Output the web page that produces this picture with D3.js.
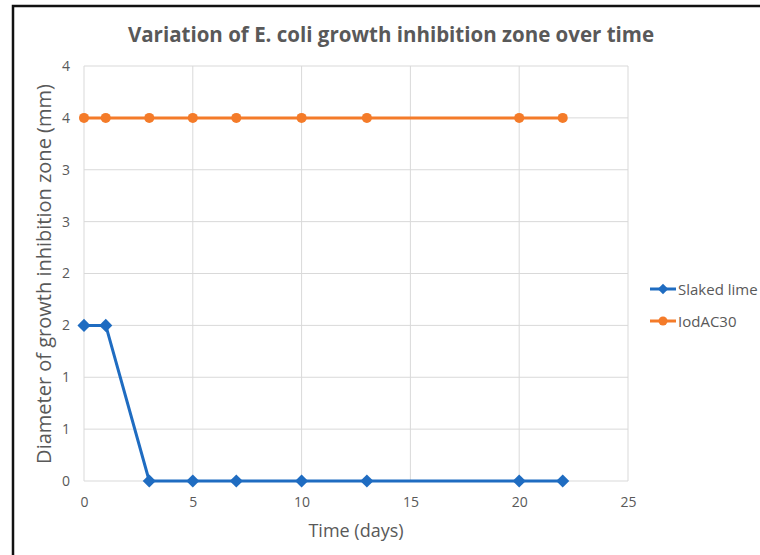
<!DOCTYPE html>
<html lang="en">
<head>
    <meta charset="UTF-8">
    <title>Variation of E. coli growth inhibition zone over time</title>
    <script src="https://d3js.org/d3.v7.min.js"></script>
    <style>
        body {
            margin: 0;
            background-color: #fff;
            font-family: "Open Sans", Arial, sans-serif;
        }
        .grid line {
            stroke: #d9d9d9;
            stroke-width: 1;
        }
    </style>
</head>
<body>
    <svg id="chart" width="760" height="555"></svg>
    <script>
        const days = [0, 1, 3, 5, 7, 10, 13, 20, 22];
        const slakedLime = [1.5, 1.5, 0, 0, 0, 0, 0, 0, 0];
        const iodAC30 = [3.5, 3.5, 3.5, 3.5, 3.5, 3.5, 3.5, 3.5, 3.5];
        const xTicks = [0, 5, 10, 15, 20, 25];
        const yTicks = [0, 0.5, 1, 1.5, 2, 2.5, 3, 3.5, 4];
        const yTickLabels = ["0", "1", "1", "2", "2", "3", "3", "4", "4"];

        const series = [
            { name: "Slaked lime", values: slakedLime, color: "#1f6cc1", marker: "diamond" },
            { name: "IodAC30", values: iodAC30, color: "#f47b29", marker: "circle" }
        ];

        const margin = { top: 66, right: 132, bottom: 74, left: 84 };
        const width = 760 - margin.left - margin.right;
        const height = 555 - margin.top - margin.bottom;

        const svg = d3.select("#chart");

        // outer frame (runs off the right and bottom)
        svg.append("rect")
            .attr("x", 13).attr("y", 6)
            .attr("width", 800).attr("height", 600)
            .attr("fill", "none")
            .attr("stroke", "#111")
            .attr("stroke-width", 2.5);

        svg.append("text")
            .attr("x", 391).attr("y", 42)
            .attr("text-anchor", "middle")
            .attr("fill", "#595959")
            .style("font-size", "20.5px")
            .style("font-weight", "bold")
            .text("Variation of E. coli growth inhibition zone over time");

        const g = svg.append("g")
            .attr("transform", `translate(${margin.left},${margin.top})`);

        const x = d3.scaleLinear().domain([0, 25]).range([0, width]);
        const y = d3.scaleLinear().domain([0, 4]).range([height, 0]);

        // grid
        g.append("g").attr("class", "grid")
            .selectAll("line.h").data(yTicks).enter().append("line")
            .attr("x1", 0).attr("x2", width)
            .attr("y1", d => y(d)).attr("y2", d => y(d));
        g.append("g").attr("class", "grid")
            .selectAll("line.v").data(xTicks).enter().append("line")
            .attr("x1", d => x(d)).attr("x2", d => x(d))
            .attr("y1", 0).attr("y2", height);

        // axes
        const yAxis = g.append("g")
            .call(d3.axisLeft(y).tickValues(yTicks)
                .tickFormat((d, i) => yTickLabels[i]).tickSize(0).tickPadding(14));
        yAxis.select(".domain").remove();
        yAxis.selectAll("text")
            .style("font-family", "Open Sans").style("font-size", "14px").attr("fill", "#595959");

        const xAxis = g.append("g")
            .attr("transform", `translate(0,${height})`)
            .call(d3.axisBottom(x).tickValues(xTicks).tickSize(0).tickPadding(16));
        xAxis.select(".domain").remove();
        xAxis.selectAll("text")
            .style("font-family", "Open Sans").style("font-size", "14px").attr("fill", "#595959");

        // axis titles
        svg.append("text")
            .attr("x", 356).attr("y", 537)
            .attr("text-anchor", "middle")
            .attr("fill", "#595959")
            .style("font-size", "18px")
            .text("Time (days)");

        svg.append("text")
            .attr("transform", "translate(51,274) rotate(-90)")
            .attr("text-anchor", "middle")
            .attr("fill", "#595959")
            .style("font-size", "20px")
            .text("Diameter of growth inhibition zone (mm)");

        const line = d3.line().x(d => x(d[0])).y(d => y(d[1]));
        const diamond = d3.symbol().type(d3.symbolDiamond2).size(110);

        series.forEach(s => {
            const pts = days.map((d, i) => [d, s.values[i]]);
            g.append("path")
                .datum(pts)
                .attr("fill", "none")
                .attr("stroke", s.color)
                .attr("stroke-width", 3)
                .attr("stroke-linejoin", "round")
                .attr("d", line);
            if (s.marker === "circle") {
                g.selectAll(null).data(pts).enter().append("circle")
                    .attr("cx", d => x(d[0])).attr("cy", d => y(d[1]))
                    .attr("r", 5).attr("fill", s.color);
            } else {
                g.selectAll(null).data(pts).enter().append("path")
                    .attr("d", diamond)
                    .attr("transform", d => `translate(${x(d[0])},${y(d[1])})`)
                    .attr("fill", s.color);
            }
        });

        // legend
        const legend = svg.append("g").attr("transform", "translate(650,289)");
        series.forEach((s, i) => {
            const row = legend.append("g").attr("transform", `translate(0,${i * 32})`);
            row.append("line").attr("x1", 0).attr("x2", 26)
                .attr("stroke", s.color).attr("stroke-width", 3);
            if (s.marker === "circle") {
                row.append("circle").attr("cx", 13).attr("r", 4.5).attr("fill", s.color);
            } else {
                row.append("path").attr("d", d3.symbol().type(d3.symbolDiamond2).size(70))
                    .attr("transform", "translate(13,0)").attr("fill", s.color);
            }
            row.append("text").attr("x", 28).attr("y", 6)
                .attr("fill", "#595959")
                .style("font-size", "15px")
                .text(s.name);
        });
    </script>
</body>
</html>
